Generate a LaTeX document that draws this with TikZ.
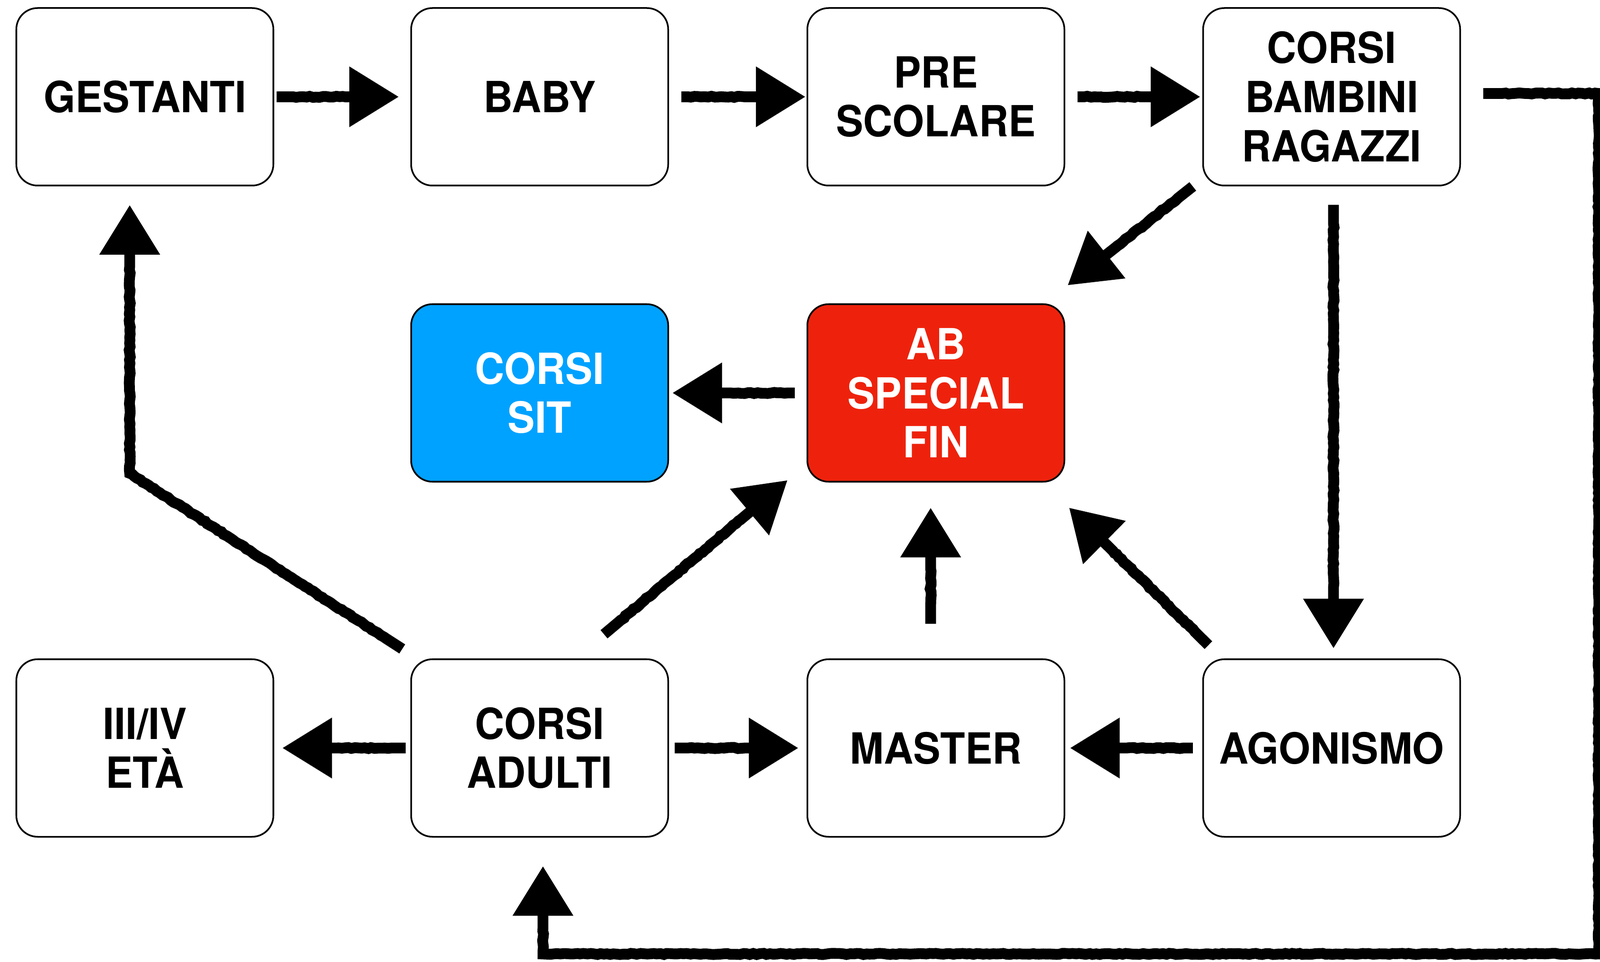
\documentclass[tikz,border=0pt]{standalone}
\usepackage{fontspec}
\newfontfamily\boxfont[FakeStretch=0.95]{TeX Gyre Heros}
\usepackage{tikz}
\usetikzlibrary{arrows.meta,calc,decorations.pathmorphing}
\definecolor{sitblue}{HTML}{00A2FF}
\definecolor{finred}{HTML}{EE220C}
\tikzstyle{box} = [draw, line width=1pt, rounded corners=0.45cm, minimum width=5.43cm, minimum height=3.75cm, align=center, font=\boxfont\bfseries\fontsize{25.8}{29.5}\selectfont]
\tikzstyle{es} = [line width=6.5pt, -{Triangle[length=1.05cm,width=1.22cm]}, decorate, decoration={random steps, segment length=2pt, amplitude=0.35pt, pre length=0.4cm, post length=1.3cm}]

\begin{document}
\begin{tikzpicture}
			\useasboundingbox (0,0) rectangle (33.8,20.31);
			\node[box] (gestanti) at (3.06,18.265) {GESTANTI};
			\node[box] (baby) at (11.40,18.265) {BABY};
			\node[box] (pre) at (19.77,18.265) {PRE\\SCOLARE};
			\node[box] (bambini) at (28.13,18.265) {CORSI\\BAMBINI\\RAGAZZI};
			\node[box, fill=sitblue, text=white] (sit) at (11.40,12.01) {CORSI\\SIT};
			\node[box, fill=finred, text=white] (fin) at (19.77,12.01) {AB\\SPECIAL\\FIN};
			\node[box] (terza) at (3.06,4.51) {III/IV\\ETÀ};
			\node[box] (adulti) at (11.40,4.51) {CORSI\\ADULTI};
			\node[box] (master) at (19.77,4.51) {MASTER};
			\node[box] (agonismo) at (28.13,4.51) {AGONISMO};
			\coordinate (loop) at (33.77,0.16);
			% top row
			\draw[es, shorten <=0.05cm, shorten >=0.24cm] (gestanti) -- (baby);
			\draw[es, shorten <=0.26cm, shorten >=0.02cm] (baby) -- (pre);
			\draw[es, shorten <=0.26cm, shorten >=0.04cm] (pre) -- (bambini);
			\draw[es] ($(bambini.east)+(0.47,0.07)$) -| (loop) -| ($(adulti.south)+(0.07,-0.6)$);
			\draw[es] ($(bambini.south west)+(-0.2,0)$) -- ($(fin.north east)+(0.05,0.38)$);
			\draw[es] ($(bambini.south)+(0.04,-0.39)$) -- ($(agonismo.north)+(0.04,0.21)$);
			% middle
			\draw[es, shorten <=0.25cm, shorten >=0.07cm] (fin) -- (sit);
			\draw[es] ($(adulti.north)+(1.36,0.51)$) -- ($(fin.south west)+(-0.4,0.05)$);
			\draw[es] ($(master.north)+(-0.11,0.73)$) -- ($(fin.south)+(-0.11,-0.53)$);
			\draw[es] ($(agonismo.north west)+(0.13,0.28)$) -- ($(fin.south east)+(0.08,-0.53)$);
			% bottom row
			\draw[es, shorten <=0.2cm, shorten >=0.1cm] (agonismo) -- (master);
			\draw[es, shorten <=0.12cm, shorten >=0.17cm] (adulti) -- (master);
			\draw[es, shorten <=0.1cm, shorten >=0.17cm] (adulti) -- (terza);
			\draw[es] ($(adulti.north west)+(-0.17,0.2)$) -- ($(gestanti.south)+(-0.32,-6.06)$) -- ($(gestanti.south)+(-0.32,-0.39)$);
		\end{tikzpicture}
\end{document}
